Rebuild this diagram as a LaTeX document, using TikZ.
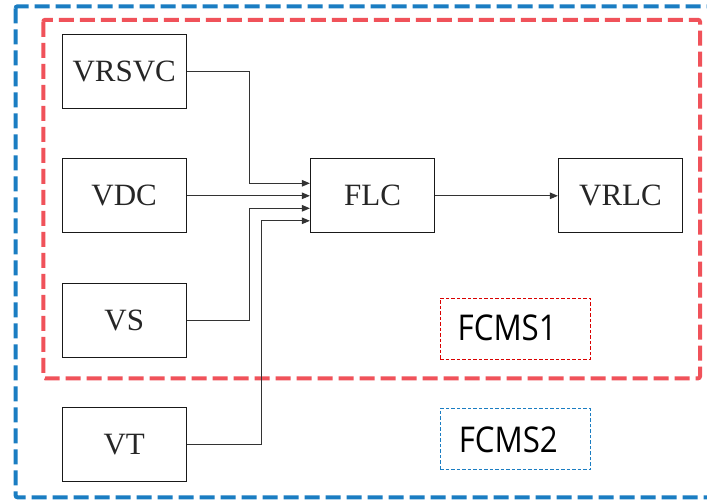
\documentclass[tikz,border=0pt]{standalone}
\usepackage{fontspec}
\setmainfont{Liberation Serif}
\newfontfamily\fcmsfont{Open Sans}
\usetikzlibrary{arrows.meta,positioning,calc}
\definecolor{outerblue}{HTML}{1A7DC2}
\definecolor{innerred}{HTML}{F0525A}
\definecolor{linegrey}{HTML}{333333}
\tikzset{
  blockbox/.style={draw=black!90, line width=1.2pt, minimum width=124pt, minimum height=74pt,
    inner sep=0pt, font=\fontsize{31}{31}\selectfont, text=black!85},
  conn/.style={draw=linegrey, line width=1pt, -{Triangle[length=8pt,width=6.5pt]}},
  bigdash/.style={line width=4pt, dash pattern=on 15pt off 6pt, rounded corners=2pt},
  fcmsbox/.style={line width=1.3pt, dash pattern=on 3.5pt off 2pt, minimum width=150pt,
    minimum height=61pt, inner sep=0pt},
  fcmstext/.style={font=\fcmsfont\fontsize{35.5}{35.5}\selectfont, text=black, inner sep=0pt}
}
\begin{document}
\begin{tikzpicture}[x=1pt,y=-1pt]
\clip (0,0) rectangle (707,499);
\fill[white] (0,0) rectangle (707,499);
% outer and inner dashed frames
\draw[bigdash, outerblue] (15.6,6.3) rectangle (720,497.3);
\draw[bigdash, innerred] (43.3,19.8) rectangle (700,378.3);
% blocks
\node[blockbox] (vrsvc) at (124.2,71.3) {VRSVC};
\node[blockbox] (vdc) at (124.2,195.8) {VDC};
\node[blockbox] (vs) at (124.2,320.3) {VS};
\node[blockbox] (vt) at (124.2,444.5) {VT};
\node[blockbox] (flc) at (372.5,195.8) {FLC};
\node[blockbox] (vrlc) at (620.5,195.8) {VRLC};
% connectors
\draw[conn] (vrsvc.east) -- ++(62.3,0) |- ([yshift=12.5pt]flc.west);
\draw[conn] (vdc.east) -- (flc.west);
\draw[conn] (vs.east) -- ++(62.3,0) |- ([yshift=-12.5pt]flc.west);
\draw[conn] (vt.east) -- ++(74.6,0) |- ([yshift=-25pt]flc.west);
\draw[conn] (flc.east) -- (vrlc.west);
% legend boxes
\node[fcmsbox, draw=red!85!black] (f1) at (515.2,328.7) {};
\node[fcmstext, xscale=0.88] (t1) at (507.2,328.2) {FCMS1};
\node[fcmsbox, draw=outerblue] (f2) at (515.2,439.3) {};
\node[fcmstext, xscale=0.88] (t2) at (508.3,439.5) {FCMS2};
\end{tikzpicture}
\end{document}
